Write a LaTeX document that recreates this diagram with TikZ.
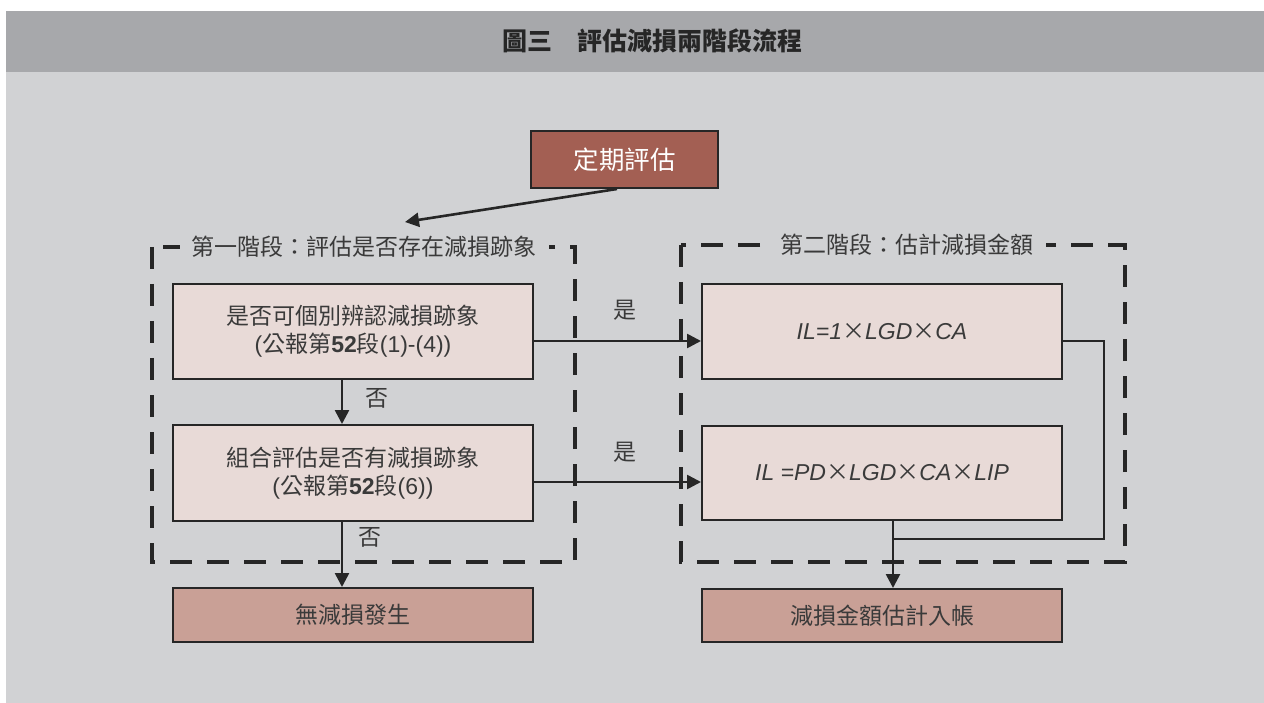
\documentclass[tikz,border=0pt]{standalone}
\usepackage{fontspec}
\setmainfont{Noto Sans CJK TC}
\newfontfamily\lat{Liberation Sans}
\usetikzlibrary{arrows.meta}
\definecolor{headc}{HTML}{A7A8AB}
\definecolor{panelc}{HTML}{D1D2D4}
\definecolor{boxl}{HTML}{E8DAD7}
\definecolor{boxtop}{HTML}{A35F53}
\definecolor{boxbot}{HTML}{C9A096}
\definecolor{bordc}{HTML}{262626}
\definecolor{txtc}{HTML}{3A3A3A}
\newcommand{\bfnt}{\fontsize{23}{28}\selectfont}
\begin{document}
\begin{tikzpicture}[x=1pt,y=-1pt,
  box/.style={draw=bordc, line width=2pt, fill=boxl, minimum width=360pt, minimum height=95pt,
    text=txtc, font=\bfnt, align=center, inner sep=0pt},
  endbox/.style={box, fill=boxbot, minimum height=54pt},
  frame/.style={draw=bordc, line width=4pt, dash pattern=on 22pt off 15pt},
  flabel/.style={fill=panelc, text=txtc, font=\bfnt, inner xsep=12pt, inner ysep=2pt},
  arr/.style={draw=bordc, line width=2.6pt, -{Triangle[length=14pt,width=14pt]}},
  thinline/.style={draw=bordc, line width=1.6pt},
  lab/.style={text=txtc, font=\bfnt}]
\useasboundingbox (0,0) rectangle (1264,703);
\fill[white] (0,0) rectangle (1264,703);
\fill[panelc] (6,11) rectangle (1264,703);
\fill[headc] (6,11) rectangle (1264,72);
\node[text=bordc, font=\fontsize{25}{30}\selectfont\bfseries] (title) at (652,41) {圖三　評估減損兩階段流程};

% frames
\draw[frame] (152,247) rectangle (575,562);
\node[flabel] (f1) at (364,247) {第一階段：評估是否存在減損跡象};
\draw[frame] (681,245) rectangle (1125,562);
\node[flabel] (f2) at (907,245) {第二階段：估計減損金額};

% boxes
\node[box, fill=boxtop, text=white, font=\fontsize{25.5}{30}\selectfont, minimum width=187pt, minimum height=57pt] (top) at (624.5,159.5) {定期評估};
\node[box] (b1) at (353,331.5) {是否可個別辨認減損跡象\\{\lat(}公報第{\lat\bfseries 52}段{\lat(1)-(4))}};
\node[box, minimum height=96pt] (b2) at (353,473) {組合評估是否有減損跡象\\{\lat(}公報第{\lat\bfseries 52}段{\lat(6))}};
\node[box] (b3) at (882,331.5) {{\lat\itshape IL=1}×{\lat\itshape LGD}×{\lat\itshape CA}};
\node[box, minimum height=94pt] (b4) at (882,473) {{\lat\itshape IL =PD}×{\lat\itshape LGD}×{\lat\itshape CA}×{\lat\itshape LIP}};
\node[endbox] (b5) at (353,615) {無減損發生};
\node[endbox, minimum height=53pt] (b6) at (882,615.5) {減損金額估計入帳};

% connectors
\coordinate (p1) at (405,222);
\draw[arr] ([xshift=-7.5pt]top.south) -- (p1);
\draw[arr] ([xshift=-11pt]b1.south) -- ([xshift=-11pt]b2.north);
\draw[arr] ([xshift=-11pt]b2.south) -- ([xshift=-11pt]b5.north);
\draw[arr] ([yshift=-9.5pt]b1.east) -- ([yshift=-9.5pt]b3.west);
\draw[arr] ([yshift=-9pt]b2.east) -- ([yshift=-9pt]b4.west);
\draw[arr] ([xshift=11pt]b4.south) -- ([xshift=11pt]b6.north);
\coordinate (c1) at (1104,539);
\coordinate (c2) at (893,539);
\draw[thinline] ([yshift=-9.5pt]b3.east) -| (c1) -- (c2);

% labels
\node[lab] (n1) at (377,398) {否};
\node[lab] (n2) at (370,537) {否};
\node[lab] (y1) at (625,310) {是};
\node[lab] (y2) at (625,452) {是};
\end{tikzpicture}
\end{document}
